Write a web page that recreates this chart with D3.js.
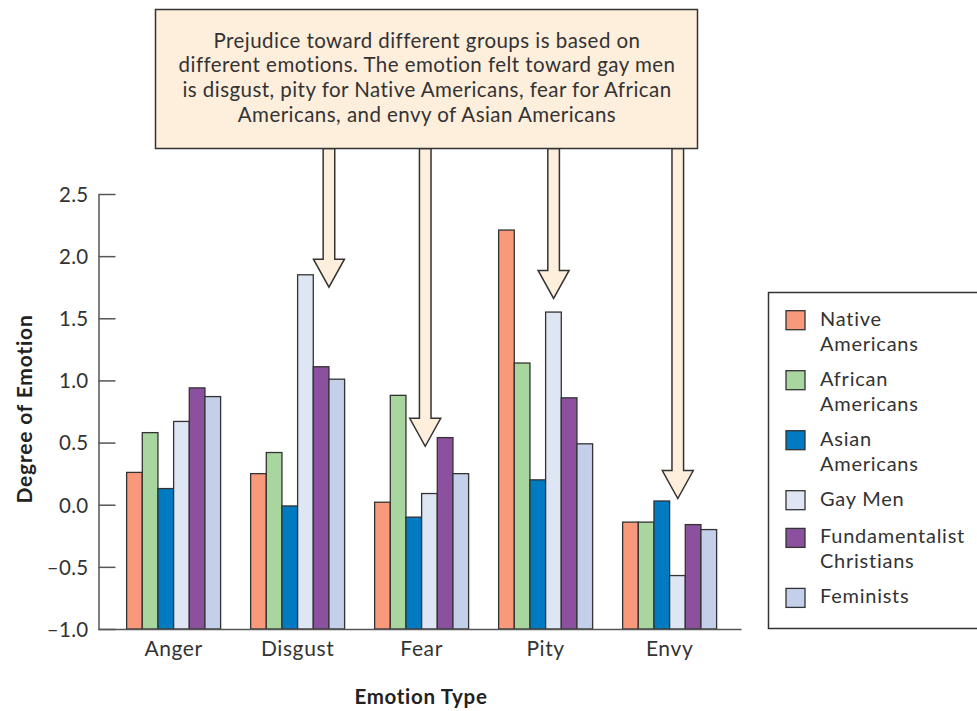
<!DOCTYPE html>
<html>
<head>
<meta charset="utf-8">
<script src="https://cdn.jsdelivr.net/npm/d3@7"></script>
<style>
  html, body { margin: 0; padding: 0; background: #ffffff; }
  svg { display: block; font-family: Lato, "Open Sans", sans-serif; }
</style>
</head>
<body>
<svg id="chart" width="977" height="711"></svg>
<script>
// ---- data ----
const categories = ["Anger", "Disgust", "Fear", "Pity", "Envy"];
const groups = ["Native Americans", "African Americans", "Asian Americans", "Gay Men", "Fundamentalist Christians", "Feminists"];
const legendLabels = [["Native", "Americans"], ["African", "Americans"], ["Asian", "Americans"], ["Gay Men"], ["Fundamentalist", "Christians"], ["Feminists"]];
const nativeAmericans   = [0.26, 0.25, 0.02, 2.21, -0.14];
const africanAmericans  = [0.58, 0.42, 0.88, 1.14, -0.14];
const asianAmericans    = [0.13, -0.01, -0.10, 0.20, 0.03];
const gayMen            = [0.67, 1.85, 0.09, 1.55, -0.57];
const fundamentalists   = [0.94, 1.11, 0.54, 0.86, -0.16];
const feminists         = [0.87, 1.01, 0.25, 0.49, -0.20];
const seriesValues = [nativeAmericans, africanAmericans, asianAmericans, gayMen, fundamentalists, feminists];
const yTickValues = [-1.0, -0.5, 0.0, 0.5, 1.0, 1.5, 2.0, 2.5];
const calloutLines = [
  "Prejudice toward different groups is based on",
  "different emotions. The emotion felt toward gay men",
  "is disgust, pity for Native Americans, fear for African",
  "Americans, and envy of Asian Americans"
];
const arrowCategories = ["Disgust", "Fear", "Pity", "Envy"];
const arrowTipValues = [1.75, 0.47, 1.66, 0.05];

// ---- styles ----
const colors = ["#f7997a", "#a9d69e", "#007bc2", "#dee5f3", "#8b509e", "#c4cfe9"];
const textColor = "#333333";
const strokeColor = "#333333";
const calloutFill = "#feeedc";

const svg = d3.select("#chart");

// ---- scales ----
const x0 = d3.scaleBand().domain(categories).range([98, 741])
  .paddingInner(0.242).paddingOuter(0.2137).align(0.54);
const x1 = d3.scaleBand().domain(d3.range(groups.length)).range([0, x0.bandwidth()]).padding(0);
const y = d3.scaleLinear().domain([-1, 2.5]).range([629, 194]);

const table = categories.map((c, i) => ({ cat: c, vals: seriesValues.map((s, j) => ({ j, v: s[i] })) }));

// ---- bars ----
const g = svg.append("g");
g.selectAll("g.grp").data(table).join("g")
  .attr("class", "grp")
  .attr("transform", d => `translate(${x0(d.cat)},0)`)
  .selectAll("rect").data(d => d.vals).join("rect")
  .attr("x", d => x1(d.j))
  .attr("width", x1.bandwidth())
  .attr("y", d => y(d.v))
  .attr("height", d => y(-1) - y(d.v))
  .attr("fill", d => colors[d.j])
  .attr("stroke", strokeColor)
  .attr("stroke-width", 1.3);

// ---- y axis ----
const fmt = d => (d < 0 ? "\u2013" + Math.abs(d).toFixed(1) : d.toFixed(1));
const yAxis = d3.axisLeft(y).tickValues(yTickValues).tickFormat(fmt)
  .tickSizeInner(-17).tickSizeOuter(0).tickPadding(10);
const ya = svg.append("g").attr("transform", "translate(98.5,0)").call(yAxis);
ya.select(".domain").attr("stroke", "#555").attr("stroke-width", 1.5);
ya.selectAll(".tick line").attr("stroke", "#555").attr("stroke-width", 1.5);
ya.selectAll(".tick text").attr("fill", textColor).style("font-size", "20.5px")
  .style("font-family", "Lato, sans-serif").style("letter-spacing", "0.3px").attr("dy", "0.36em");

// ---- x axis ----
const xAxis = d3.axisBottom(x0).tickSize(0).tickPadding(0);
const xa = svg.append("g").attr("transform", "translate(0,629)").call(xAxis);
xa.select(".domain").attr("stroke", "#555").attr("stroke-width", 1.5);
xa.selectAll(".tick text").attr("fill", textColor).style("font-size", "21px")
  .style("font-family", "Lato, sans-serif").style("letter-spacing", "0.6px").attr("y", 27).attr("dy", 0);

// ---- axis titles ----
svg.append("text").attr("x", 421).attr("y", 704).attr("text-anchor", "middle")
  .attr("fill", "#222").style("font-size", "20.5px").style("font-weight", "bold")
  .style("letter-spacing", "0.7px").text("Emotion Type");
svg.append("text").attr("transform", "translate(32,409) rotate(-90)").attr("text-anchor", "middle")
  .attr("fill", "#222").style("font-size", "21px").style("font-weight", "bold")
  .style("letter-spacing", "0.8px").text("Degree of Emotion");

// ---- arrows ----
const boxBottom = 148.5;
const shaftHalf = 5.8, headHalf = 15.5, headLen = 28;
const arrowBarPos = [5.0, 3.23, 3.51, 3.52]; // position in bar widths within group
arrowCategories.forEach((c, i) => {
  const cx = x0(c) + x1.bandwidth() * arrowBarPos[i];
  const tip = y(arrowTipValues[i]);
  const hb = tip - headLen;
  const pts = [
    [cx - shaftHalf, boxBottom], [cx + shaftHalf, boxBottom], [cx + shaftHalf, hb],
    [cx + headHalf, hb], [cx, tip], [cx - headHalf, hb], [cx - shaftHalf, hb]
  ];
  svg.append("path").attr("d", d3.line()(pts) + "Z")
    .attr("fill", calloutFill).attr("stroke", strokeColor).attr("stroke-width", 1.5)
    .attr("stroke-linejoin", "miter");
});

// ---- callout box ----
svg.append("rect").attr("x", 155.5).attr("y", 9.5).attr("width", 542).attr("height", 139)
  .attr("fill", calloutFill).attr("stroke", strokeColor).attr("stroke-width", 1.5);
calloutLines.forEach((l, i) => {
  svg.append("text").attr("text-anchor", "middle").attr("fill", textColor)
    .style("font-size", "20.5px").style("letter-spacing", "0.45px")
    .attr("x", 427).attr("y", 47.5 + i * 24.8).text(l);
});

// ---- legend ----
svg.append("rect").attr("x", 768.5).attr("y", 292.5).attr("width", 220).attr("height", 336)
  .attr("fill", "#fff").attr("stroke", strokeColor).attr("stroke-width", 1.5);
let ly = 310.7;
legendLabels.forEach((lines, i) => {
  svg.append("rect").attr("x", 786).attr("y", ly).attr("width", 19).attr("height", 19)
    .attr("fill", colors[i]).attr("stroke", strokeColor).attr("stroke-width", 1.3);
  lines.forEach((ln, k) => {
    svg.append("text").attr("fill", textColor).style("font-size", "20px")
      .style("letter-spacing", "0.75px")
      .attr("x", 820).attr("y", ly + 15 + k * 25).text(ln);
  });
  ly += lines.length === 2 ? 60 : 37.7;
});
</script>
</body>
</html>
